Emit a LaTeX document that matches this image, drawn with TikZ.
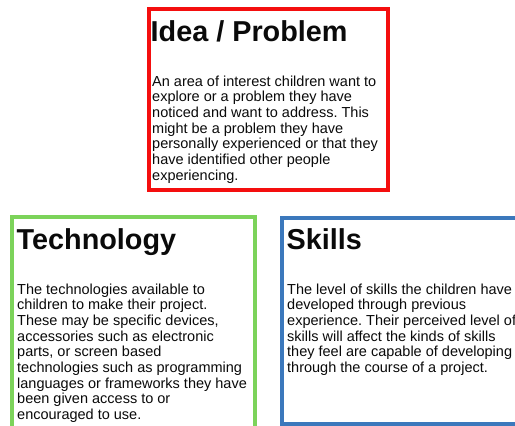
\documentclass[tikz,border=0pt]{standalone}
\usepackage{fontspec}
\setmainfont{Liberation Sans}
\definecolor{boxred}{HTML}{F40E0E}
\definecolor{boxgreen}{HTML}{7CD35A}
\definecolor{boxblue}{HTML}{3B78BC}
\definecolor{ink}{HTML}{0A0A0A}
\begin{document}
\frenchspacing
\begin{tikzpicture}[x=1pt,y=-1pt,
  frame/.style={draw, line width=4pt, inner sep=0pt, fill=none},
  titletext/.style={anchor=base west, inner sep=0pt, text=ink, font=\fontsize{28.8}{32}\selectfont\bfseries},
  bodytext/.style={anchor=base west, inner sep=0pt, text=ink, font=\fontsize{14.5}{15.7}\selectfont}]
\useasboundingbox (0,0) rectangle (515,426);
\clip (0,0) rectangle (515,426);
\fill[white] (0,0) rectangle (515,426);
% boxes
\node[frame, draw=boxred, minimum width=239pt, minimum height=181pt] (idea) at (268.5,99.5) {};
\node[frame, draw=boxgreen, minimum width=242.5pt, minimum height=240pt] (tech) at (133.25,337) {};
\node[frame, draw=boxblue, line width=3.5pt, minimum width=253pt, minimum height=206pt] (skills) at (408.5,321) {};
% texts
\node[titletext] (ideat) at (150.5,41) {Idea / Problem};
\node[bodytext] (ideab) at (152,86) {\parbox[t]{240pt}{An area of interest children want to\\explore or a problem they have\\noticed and want to address. This\\might be a problem they have\\personally experienced or that they\\have identified other people\\experiencing.}};
\node[titletext] (techt) at (16.5,249) {Technology};
\node[bodytext] (techb) at (17,294) {\parbox[t]{240pt}{The technologies available to\\children to make their project.\\These may be specific devices,\\accessories such as electronic\\parts, or screen based\\technologies such as programming\\languages or frameworks they have\\been given access to or\\encouraged to use.}};
\node[titletext] (skillst) at (286.5,249) {Skills};
\node[bodytext] (skillsb) at (287,294) {\parbox[t]{240pt}{The level of skills the children have\\developed through previous\\experience. Their perceived level of\\skills will affect the kinds of skills\\they feel are capable of developing\\through the course of a project.}};
\end{tikzpicture}
\end{document}
